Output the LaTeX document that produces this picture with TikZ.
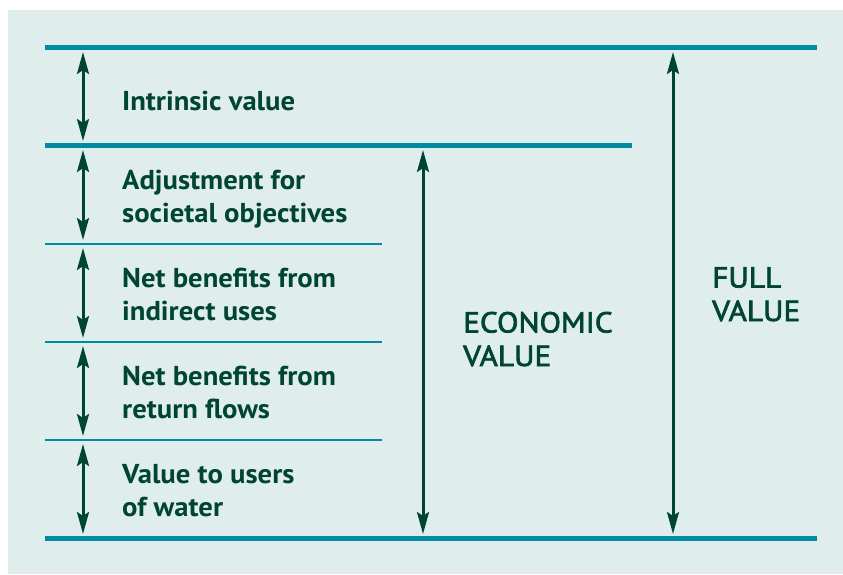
\documentclass[tikz,border=0pt]{standalone}
\usepackage{fontspec}
\setmainfont{PT Sans}[FakeStretch=1.05]
\newfontfamily\capsfont{PT Sans}[FakeStretch=1.08,FakeBold=2.5]
\usetikzlibrary{arrows.meta}
\definecolor{bgcol}{RGB}{224,237,237}
\definecolor{rulecol}{RGB}{0,139,163}
\definecolor{inkcol}{RGB}{0,68,51}
\tikzset{
  thickrule/.style={draw=rulecol, line width=5pt},
  thinrule/.style={draw=rulecol, line width=2pt},
  spanarrow/.style={draw=inkcol, line width=3pt, {Stealth[length=22pt,width=12pt,inset=4pt]}-{Stealth[length=22pt,width=12pt,inset=4pt]}},
  lbl/.style={inner sep=0pt, anchor=base west, align=left, text=inkcol, font=\bfseries\fontsize{27.3}{33}\selectfont},
  biglbl/.style={inner sep=0pt, anchor=base west, align=left, text=inkcol, font=\capsfont\fontsize{29}{33.5}\selectfont}
}
\begin{document}
\begin{tikzpicture}[x=1pt,y=-1pt]
\useasboundingbox (0,0) rectangle (843,574);
\fill[bgcol] (8,10) rectangle (843,574);
% rules
\coordinate (r1a) at (45,47.5);  \coordinate (r1b) at (817,47.5);
\coordinate (r2a) at (45,145.5); \coordinate (r2b) at (632,145.5);
\coordinate (r3a) at (45,244);   \coordinate (r3b) at (382,244);
\coordinate (r4a) at (45,342);   \coordinate (r4b) at (382,342);
\coordinate (r5a) at (45,440);   \coordinate (r5b) at (382,440);
\coordinate (r6a) at (45,538.5); \coordinate (r6b) at (817,538.5);
\draw[thickrule] (r1a) -- (r1b);
\draw[thickrule] (r2a) -- (r2b);
\draw[thinrule] (r3a) -- (r3b);
\draw[thinrule] (r4a) -- (r4b);
\draw[thinrule] (r5a) -- (r5b);
\draw[thickrule] (r6a) -- (r6b);
% arrow ends
\coordinate (a1t) at (83,52);  \coordinate (a1b) at (83,141);
\coordinate (a2t) at (83,150); \coordinate (a2b) at (83,240);
\coordinate (a3t) at (83,248); \coordinate (a3b) at (83,338);
\coordinate (a4t) at (83,346); \coordinate (a4b) at (83,436);
\coordinate (a5t) at (83,444); \coordinate (a5b) at (83,534);
\coordinate (ect) at (423,150); \coordinate (ecb) at (423,534);
\coordinate (fvt) at (673,52);  \coordinate (fvb) at (673,534);
\draw[spanarrow] (a1t) -- (a1b);
\draw[spanarrow] (a2t) -- (a2b);
\draw[spanarrow] (a3t) -- (a3b);
\draw[spanarrow] (a4t) -- (a4b);
\draw[spanarrow] (a5t) -- (a5b);
\draw[spanarrow] (ect) -- (ecb);
\draw[spanarrow] (fvt) -- (fvb);
% labels (anchor = baseline of last line)
\node[lbl] (intr) at (122,110) {Intrinsic value};
\node[lbl] (adj) at (122,222) {Adjustment for\\societal objectives};
\node[lbl] (ind) at (122,320) {Net benefits from\\indirect uses};
\node[lbl] (ret) at (122,418) {Net benefits from\\return flows};
\node[lbl] (usr) at (122,516) {Value to users\\of water};
\node[biglbl] (eco) at (463,366) {ECONOMIC\\VALUE};
\node[biglbl] (full) at (712,321) {FULL\\VALUE};
\end{tikzpicture}
\end{document}
